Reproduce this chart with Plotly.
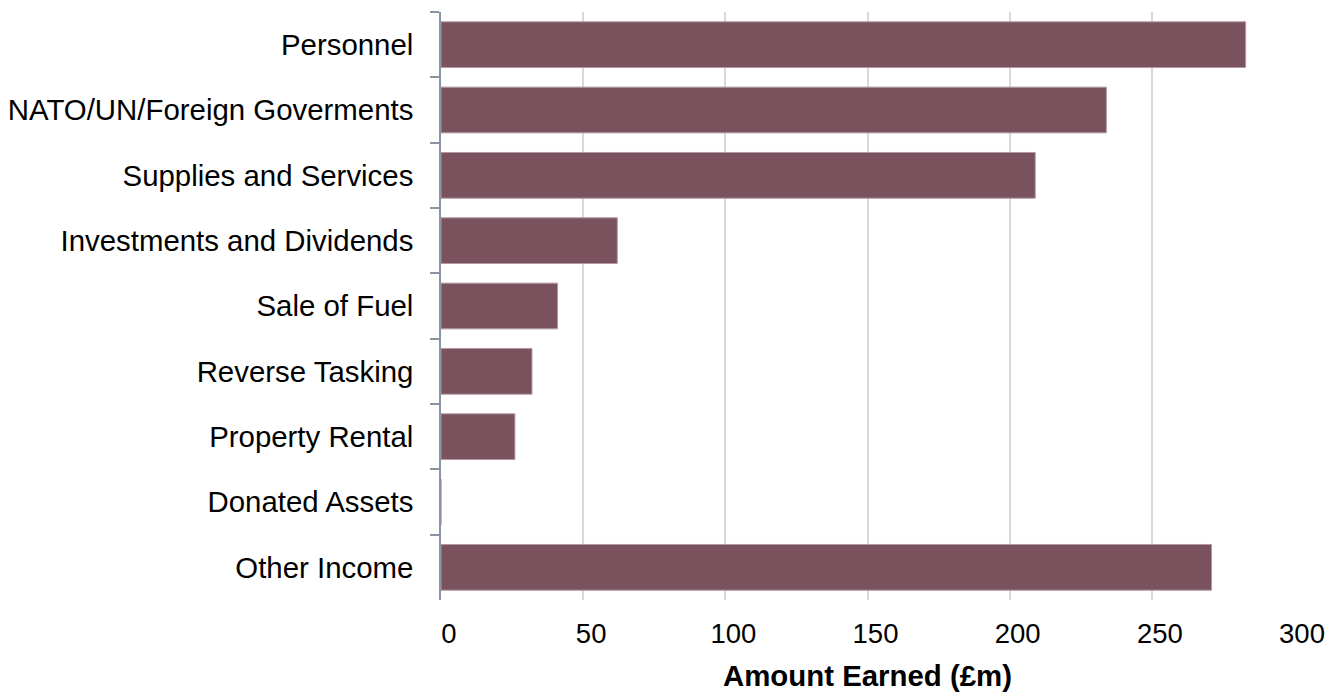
import plotly.graph_objects as go

categories = [
    "Personnel",
    "NATO/UN/Foreign Goverments",
    "Supplies and Services",
    "Investments and Dividends",
    "Sale of Fuel",
    "Reverse Tasking",
    "Property Rental",
    "Donated Assets",
    "Other Income",
]
amounts = [283, 234, 209, 62, 41, 32, 26, 0, 271]
x_ticks = [0, 50, 100, 150, 200, 250, 300]

BAR = "#79525E"
FONT = "Liberation Sans, Arial, sans-serif"

fig = go.Figure(
    go.Bar(
        y=categories,
        x=amounts,
        orientation="h",
        marker=dict(color=BAR, line=dict(color="#b39aa2", width=1)),
        hoverinfo="x+y",
    )
)

# the page body has an 8px default margin, so the figure is sized/offset to compensate
fig.update_layout(
    width=1333,
    height=684,
    margin=dict(l=433, r=47, t=4, b=92),
    paper_bgcolor="white",
    plot_bgcolor="white",
    bargap=0.3,
    showlegend=False,
    font=dict(family=FONT, color="#000000"),
)

fig.update_xaxes(
    range=[0, 300],
    tickvals=x_ticks,
    ticktext=[str(v) for v in x_ticks],
    showgrid=True,
    gridcolor="#d9d9d9",
    gridwidth=1.5,
    zeroline=False,
    showline=False,
    ticks="",
    tickfont=dict(size=27.5, family=FONT, color="#000000"),
    ticklabelshift=8,
    ticklabelstandoff=14,
    automargin=False,
    title=dict(
        text="<b>Amount Earned (£m)</b>",
        font=dict(size=29.4, family=FONT, color="#000000"),
        standoff=18,
    ),
)

fig.update_yaxes(
    categoryorder="array",
    categoryarray=categories,
    autorange="reversed",
    showline=True,
    linecolor="#8a94a0",
    linewidth=1.5,
    ticks="outside",
    tickson="boundaries",
    ticklen=9,
    tickcolor="#8a94a0",
    tickwidth=1.5,
    showgrid=False,
    automargin=False,
    tickfont=dict(size=29.4, family=FONT, color="#000000"),
    ticklabelstandoff=20,
)

fig.write_html("out.html")
